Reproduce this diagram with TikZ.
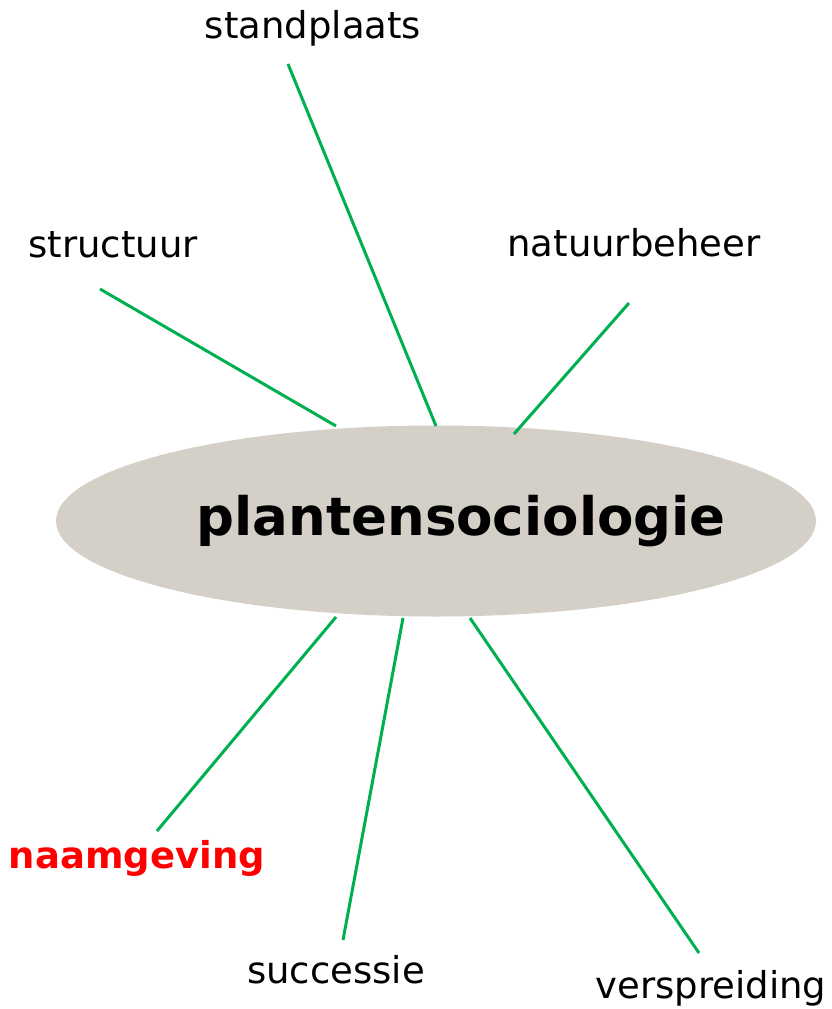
\documentclass[tikz,border=0pt]{standalone}
\usepackage{fontspec}
\setmainfont{DejaVu Sans}
\usetikzlibrary{shapes.geometric}
\definecolor{linegreen}{RGB}{0,176,80}
\definecolor{ellfill}{RGB}{212,208,200}
\definecolor{labred}{RGB}{255,0,0}
\begin{document}
\begin{tikzpicture}[x=1pt,y=-1pt,
  lab/.style={inner sep=0pt,font=\fontsize{37}{44}\selectfont},
  conn/.style={draw=linegreen,line width=3pt}]
\useasboundingbox (0,0) rectangle (831,1009);
\node[ellipse,fill=ellfill,minimum width=760pt,minimum height=191pt,inner sep=0pt] (ell) at (436,521) {};
\node[inner sep=0pt,font=\fontsize{53}{62}\selectfont\bfseries] (title) at (461,521) {plantensociologie};
\node[lab] (standplaats) at (313,28) {standplaats};
\node[lab] (structuur) at (113,245) {structuur};
\node[lab] (natuurbeheer) at (634,243) {natuurbeheer};
\node[lab,font=\fontsize{37}{44}\selectfont\bfseries,text=labred] (naamgeving) at (137,858) {naamgeving};
\node[lab] (successie) at (336,970) {successie};
\node[lab] (verspreiding) at (711,988) {verspreiding};
\coordinate (a1) at (288,64);  \coordinate (b1) at (436,426);
\coordinate (a2) at (100,289); \coordinate (b2) at (336,426);
\coordinate (a3) at (629,303); \coordinate (b3) at (514,434);
\coordinate (a4) at (157,831); \coordinate (b4) at (336,617);
\coordinate (a5) at (343,940); \coordinate (b5) at (403,618);
\coordinate (a6) at (699,953); \coordinate (b6) at (470,618);
\draw[conn] (a1) -- (b1);
\draw[conn] (a2) -- (b2);
\draw[conn] (a3) -- (b3);
\draw[conn] (a4) -- (b4);
\draw[conn] (a5) -- (b5);
\draw[conn] (a6) -- (b6);
\end{tikzpicture}
\end{document}
